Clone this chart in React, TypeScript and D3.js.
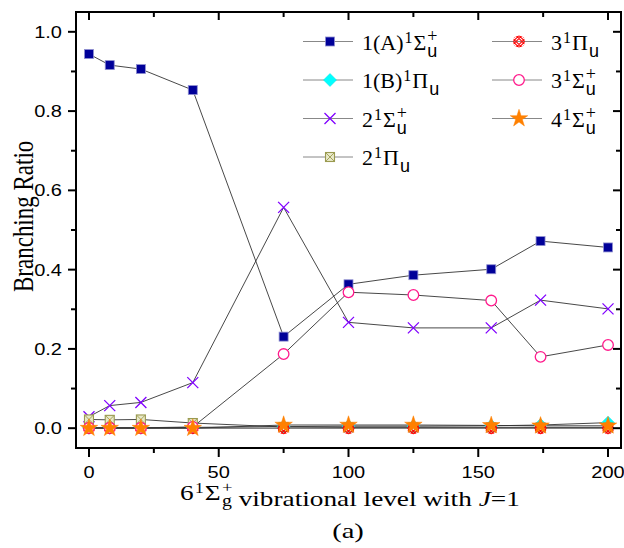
import React from "react";
import * as d3 from "d3";

const xVals = [0, 8, 20, 40, 75, 100, 125, 155, 174, 200];
const sigmaA = [0.944, 0.916, 0.906, 0.853, 0.231, 0.363, 0.386, 0.401, 0.472, 0.456];
const piB = [0.001, 0.001, 0.001, 0.002, 0.004, 0.005, 0.005, 0.006, 0.008, 0.014];
const sigma2 = [0.029, 0.057, 0.065, 0.115, 0.557, 0.267, 0.253, 0.253, 0.323, 0.301];
const pi2 = [0.022, 0.021, 0.022, 0.013, 0.003, 0.002, 0.002, 0.002, 0.002, 0.002];
const pi3 = [0, 0, 0, 0, 0, 0, 0, 0, 0, 0];
const sigma3 = [0.001, 0.001, 0.001, 0.003, 0.187, 0.343, 0.336, 0.322, 0.18, 0.21];
const sigma4 = [0, 0, 0, 0, 0.008, 0.008, 0.008, 0.007, 0.006, 0.006];

const xMajor = [0, 50, 100, 150, 200];
const xMinor = [25, 75, 125, 175];
const yMajor = [0, 0.2, 0.4, 0.6, 0.8, 1.0];
const yMinor = [0.1, 0.3, 0.5, 0.7, 0.9];

type Series = { key: string; prefix: string; letter: string; plus: boolean; values: number[]; marker: string };
const series: Series[] = [
  { key: "A", prefix: "1(A)", letter: "Σ", plus: true, values: sigmaA, marker: "square" },
  { key: "B", prefix: "1(B)", letter: "Π", plus: false, values: piB, marker: "diamond" },
  { key: "S2", prefix: "2", letter: "Σ", plus: true, values: sigma2, marker: "x" },
  { key: "P2", prefix: "2", letter: "Π", plus: false, values: pi2, marker: "boxx" },
  { key: "P3", prefix: "3", letter: "Π", plus: false, values: pi3, marker: "hatch" },
  { key: "S3", prefix: "3", letter: "Σ", plus: true, values: sigma3, marker: "circle" },
  { key: "S4", prefix: "4", letter: "Σ", plus: true, values: sigma4, marker: "star" },
];
const legendOrder = [
  { key: "A", col: 0, row: 0 },
  { key: "B", col: 0, row: 1 },
  { key: "S2", col: 0, row: 2 },
  { key: "P2", col: 0, row: 3 },
  { key: "P3", col: 1, row: 0 },
  { key: "S3", col: 1, row: 1 },
  { key: "S4", col: 1, row: 2 },
];

const L = 76, R = 621, T = 12, B = 448;
const serif = "'Liberation Serif', 'Times New Roman', serif";
const sans = "'Liberation Sans', Arial, sans-serif";

function Marker({ type }: { type: string }) {
  switch (type) {
    case "square":
      return <rect x={-4.5} y={-4.5} width={9} height={9} fill="#000099" stroke="#9090d0" strokeWidth={0.8} />;
    case "diamond":
      return <path d="M0,-6.5L6.5,0L0,6.5L-6.5,0Z" fill="#00ffff" stroke="#00e0e0" strokeWidth={0.5} />;
    case "x":
      return <path d="M-5.5,-5.5L5.5,5.5M-5.5,5.5L5.5,-5.5" stroke="#8000ff" strokeWidth={1.3} fill="none" />;
    case "boxx":
      return (
        <g>
          <rect x={-4.5} y={-4.5} width={9} height={9} fill="#e8e8c8" stroke="#9a9a50" strokeWidth={1.1} />
          <path d="M-4.5,-4.5L4.5,4.5M-4.5,4.5L4.5,-4.5" stroke="#9a9a50" strokeWidth={0.9} />
        </g>
      );
    case "hatch":
      return (
        <g clipPath="url(#hatchClip)">
          <path
            d="M-9,-3L-3,-9M-9,0L0,-9M-9,3L3,-9M-9,6L6,-9M-6,9L9,-6M-3,9L9,-3M0,9L9,0M3,9L9,3M-9,-3L3,9M-9,0L0,9M-9,-6L6,9M-9,3L-3,9M-6,-9L9,6M-3,-9L9,3M0,-9L9,0M3,-9L9,-3"
            stroke="#ff0000"
            strokeWidth={1.1}
            fill="none"
          />
        </g>
      );
    case "circle":
      return <circle r={5.3} fill="white" stroke="#ff1a8c" strokeWidth={1.3} />;
    case "star":
      return <path d={d3.symbol(d3.symbolStar, 95)() || ""} fill="#ff8000" stroke="#ff8000" strokeWidth={0.5} />;
  }
  return null;
}

function TermText({ prefix, letter, plus, sub, supSize, plusSize, subSize, subFamily, supDy, plusDy, subDy }: any) {
  const plusW = plusSize * 0.564;
  return (
    <>
      <tspan>{prefix}</tspan>
      <tspan dx={1} dy={-supDy} fontSize={supSize}>1</tspan>
      <tspan dx={1} dy={supDy}>{letter}</tspan>
      {plus ? (
        <>
          <tspan dx={1} dy={-plusDy} fontSize={plusSize}>+</tspan>
          <tspan dx={-plusW} dy={plusDy + subDy} fontSize={subSize} fontFamily={subFamily}>{sub}</tspan>
          <tspan dy={-subDy}></tspan>
        </>
      ) : (
        <>
          <tspan dx={1} dy={subDy} fontSize={subSize} fontFamily={subFamily}>{sub}</tspan>
          <tspan dy={-subDy}></tspan>
        </>
      )}
    </>
  );
}

export default function App() {
  const x = d3.scaleLinear().domain([-5, 205]).range([L, R]);
  const y = d3.scaleLinear().domain([-0.05, 1.05]).range([B, T]);
  const line = d3
    .line<number>()
    .x((_, i) => x(xVals[i]))
    .y((d) => y(d));
  const byKey: Record<string, Series> = {};
  series.forEach((s) => (byKey[s.key] = s));

  const legX = [303, 492];
  const legRowY = (r: number) => 41.5 + r * 38.5;
  const tickSX = 1.25;

  return (
    <svg width={624} height={548} style={{ position: "absolute", left: 0, top: 0, background: "white" }}>
      <defs>
        <clipPath id="hatchClip">
          <circle r={6} />
        </clipPath>
      </defs>
      {series.map((s) => (
        <path key={"l" + s.key} d={line(s.values) || ""} fill="none" stroke="#333" strokeWidth={0.9} />
      ))}
      {series.map((s) => (
        <g key={"m" + s.key}>
          {s.values.map((v, i) => (
            <g key={i} transform={`translate(${x(xVals[i])},${y(v)})`}>
              <Marker type={s.marker} />
            </g>
          ))}
        </g>
      ))}

      <rect x={L} y={T} width={R - L} height={B - T} fill="none" stroke="black" strokeWidth={2} />
      {xMajor.map((t) => (
        <g key={"xM" + t}>
          <line x1={x(t)} x2={x(t)} y1={B} y2={B + 9} stroke="black" strokeWidth={2} />
          <line x1={x(t)} x2={x(t)} y1={T} y2={T + 8} stroke="black" strokeWidth={2} />
          <text transform={`translate(${x(t)},478) scale(${tickSX},1)`} textAnchor="middle" fontFamily={sans} fontSize={16}>
            {t}
          </text>
        </g>
      ))}
      {xMinor.map((t) => (
        <g key={"xm" + t}>
          <line x1={x(t)} x2={x(t)} y1={B} y2={B + 5} stroke="black" strokeWidth={2} />
          <line x1={x(t)} x2={x(t)} y1={T} y2={T + 5} stroke="black" strokeWidth={2} />
        </g>
      ))}
      {yMajor.map((t) => (
        <g key={"yM" + t}>
          <line x1={L - 8} x2={L} y1={y(t)} y2={y(t)} stroke="black" strokeWidth={2} />
          <line x1={R - 8} x2={R} y1={y(t)} y2={y(t)} stroke="black" strokeWidth={2} />
          <text transform={`translate(62,${y(t) + 6}) scale(${tickSX},1)`} textAnchor="end" fontFamily={sans} fontSize={16}>
            {t.toFixed(1)}
          </text>
        </g>
      ))}
      {yMinor.map((t) => (
        <g key={"ym" + t}>
          <line x1={L - 5} x2={L} y1={y(t)} y2={y(t)} stroke="black" strokeWidth={2} />
          <line x1={R - 5} x2={R} y1={y(t)} y2={y(t)} stroke="black" strokeWidth={2} />
        </g>
      ))}

      {legendOrder.map((l) => {
        const s = byKey[l.key];
        const lx = legX[l.col];
        const ly = legRowY(l.row);
        return (
          <g key={"lg" + l.key}>
            <line x1={lx} x2={lx + 50} y1={ly} y2={ly} stroke="#888" strokeWidth={1} />
            <g transform={`translate(${lx + 27},${ly})`}>
              <Marker type={s.marker} />
            </g>
            <text x={lx + 59} y={ly + 8} fontFamily={serif} fontSize={22}>
              <TermText
                prefix={s.prefix}
                letter={s.letter}
                plus={s.plus}
                sub="u"
                supSize={16}
                plusSize={18}
                subSize={18}
                subFamily={sans}
                supDy={7}
                plusDy={8}
                subDy={7}
              />
            </text>
          </g>
        );
      })}

      <text transform="translate(180,500) scale(1.24,1)" textAnchor="start" fontFamily={serif} fontSize={22}>
        <TermText
          prefix="6"
          letter="Σ"
          plus={true}
          sub="g"
          supSize={14}
          plusSize={15}
          subSize={16}
          subFamily={serif}
          supDy={7}
          plusDy={8}
          subDy={6}
        />
        <tspan> vibrational level with </tspan>
        <tspan fontStyle="italic">J</tspan>
        <tspan>=1</tspan>
      </text>
      <text transform="translate(348,538) scale(1.3,1)" textAnchor="middle" fontFamily={serif} fontSize={22}>
        (a)
      </text>
      <text transform="translate(33,292) rotate(-90) scale(1,1.25)" textAnchor="start" fontFamily={serif} fontSize={23}>
        Branching Ratio
      </text>
    </svg>
  );
}
